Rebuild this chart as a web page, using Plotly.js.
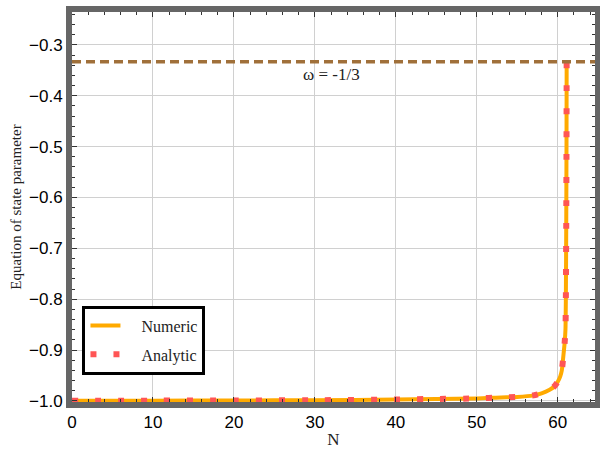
<!DOCTYPE html>
<html>
<head>
<meta charset="utf-8">
<script src="https://cdn.plot.ly/plotly-3.0.1.min.js"></script>
<style>html,body{margin:0;padding:0;background:#fff;}#chart{width:600px;height:449px;}</style>
</head>
<body>
<div id="chart"></div>
<script>
// Number of e-folds N
const N = [0, 10, 20, 30, 40, 45, 50, 53, 55, 57, 58, 59, 59.6, 60, 60.3, 60.5, 60.7, 60.85, 60.95, 61.0, 61.05, 61.08, 61.1];
// Numeric solution of the equation of state parameter
const wNumeric = [-0.9995, -0.9993, -0.999, -0.9985, -0.997, -0.996, -0.995, -0.993, -0.992, -0.989, -0.985, -0.978, -0.971, -0.962, -0.952, -0.94, -0.91, -0.886, -0.86, -0.80, -0.65, -0.50, -0.333];
// Analytic solution
const wAnalytic = [-0.9995, -0.9993, -0.999, -0.9985, -0.997, -0.996, -0.995, -0.993, -0.992, -0.989, -0.985, -0.978, -0.971, -0.962, -0.952, -0.94, -0.91, -0.886, -0.86, -0.80, -0.65, -0.50, -0.333];
// Reference level
const wRef = -1/3;
const refLabel = "ω = -1/3";
const seriesNames = ["Numeric", "Analytic"];
const xTicks = [0, 10, 20, 30, 40, 50, 60];
const yTicks = [-1.0, -0.9, -0.8, -0.7, -0.6, -0.5, -0.4, -0.3];

const pad = "\u00a0\u00a0\u00a0\u00a0";
const traces = [
  {x: N, y: wNumeric, name: pad + seriesNames[0], type: "scatter", mode: "lines", legendgroup: "a",
   line: {color: "#FFAA00", width: 4, shape: "spline", smoothing: 0.6}},
  {x: N, y: wAnalytic, name: pad + seriesNames[1], type: "scatter", mode: "lines", legendgroup: "b",
   line: {color: "#FF5555", width: 6, dash: "6px,17px", shape: "spline", smoothing: 0.6}}
];

const serif = "Liberation Serif, Times New Roman, serif";
const sans = "Liberation Sans, Arial, sans-serif";

const axisCommon = {
  showline: true, linewidth: 6, linecolor: "#666666", mirror: "allticks",
  ticks: "inside", ticklen: 5, tickwidth: 1, tickcolor: "#333",
  showgrid: true, gridcolor: "#d0d0d0", gridwidth: 1, zeroline: false,
  tickfont: {family: sans, size: 17, color: "#000"}
};

const layout = {
  width: 600, height: 449,
  margin: {l: 72, r: 5, t: 12, b: 47},
  paper_bgcolor: "#fff", plot_bgcolor: "#fff",
  showlegend: true,
  legend: {x: 0.02, y: 0.247, xanchor: "left", yanchor: "top",
    bordercolor: "#000", borderwidth: 3, bgcolor: "#fff",
    font: {family: serif, size: 16, color: "#222"}, tracegroupgap: 5},
  xaxis: Object.assign({}, axisCommon, {
    range: [0, 64.6], tickvals: xTicks, ticktext: xTicks.map(String),
    minor: {dtick: 2, ticks: "inside", ticklen: 3, tickcolor: "#333", showgrid: false},
    title: {text: "N", font: {family: serif, size: 17, color: "#222"}, standoff: 13}
  }),
  yaxis: Object.assign({}, axisCommon, {
    range: [-1.002, -0.2353], tickvals: yTicks, ticktext: yTicks.map(v => (v < 0 ? "\u2212" : "") + Math.abs(v).toFixed(1)),
    minor: {dtick: 0.02, ticks: "inside", ticklen: 3, tickcolor: "#333", showgrid: false},
    title: {text: "Equation of state parameter", font: {family: serif, size: 15, color: "#222"}, standoff: 6}
  }),
  shapes: [{type: "line", xref: "paper", x0: 0, x1: 1, yref: "y", y0: wRef, y1: wRef,
    line: {color: "#A0703A", width: 3.5, dash: "9px,5px"}}],
  annotations: [{x: 32.0, y: -0.358, xref: "x", yref: "y", text: refLabel, showarrow: false,
    font: {family: serif, size: 17, color: "#222"}}]
};

Plotly.newPlot("chart", traces, layout, {displayModeBar: false, staticPlot: true});
</script>
</body>
</html>
